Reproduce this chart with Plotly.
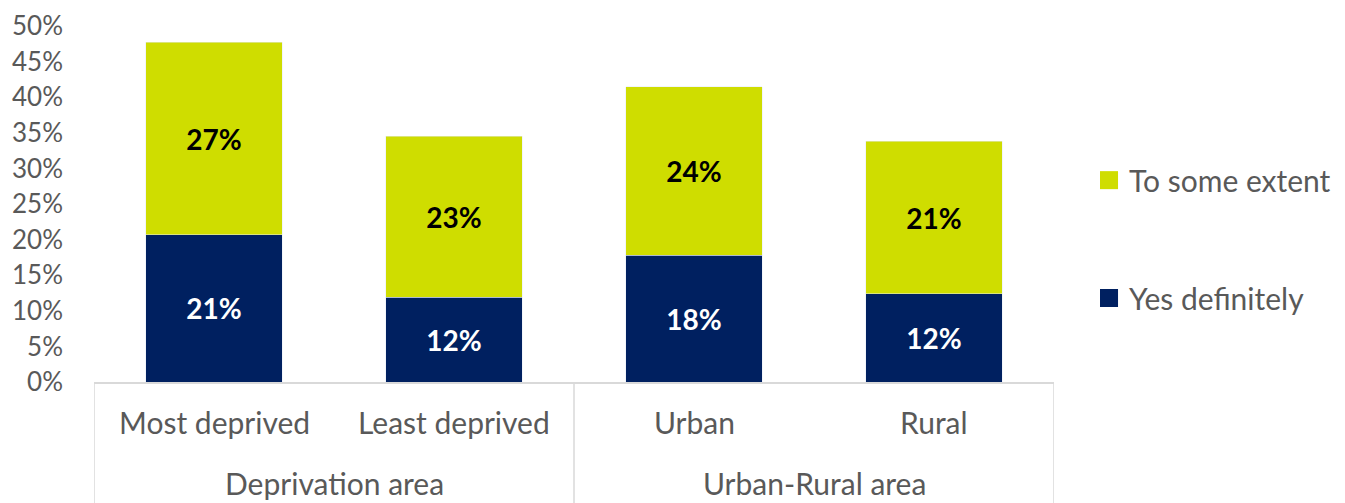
import plotly.graph_objects as go

categories = ["Most deprived", "Least deprived", "Urban", "Rural"]
groups = ["Deprivation area", "Urban-Rural area"]
group_members = [[0, 1], [2, 3]]
yes_definitely = [20.7, 11.9, 17.8, 12.4]
to_some_extent = [27.0, 22.6, 23.7, 21.4]
series_names = ["To some extent", "Yes definitely"]
y_ticks = [0, 5, 10, 15, 20, 25, 30, 35, 40, 45, 50]

NAVY = "#002060"
LIME = "#CFDD00"
GRAY = "#595959"
LINE = "#D9D9D9"
FONT = "Lato"

xs = list(range(len(categories)))

fig = go.Figure()
fig.add_trace(go.Bar(
    x=xs, y=yes_definitely, name="Yes definitely", marker_color=NAVY,
    width=0.57, text=[f"{round(v)}%" for v in yes_definitely],
    textposition="inside", insidetextanchor="middle", textangle=0,
    textfont=dict(color="white", size=28, family=FONT, weight="bold"),
    showlegend=False,
))
fig.add_trace(go.Bar(
    x=xs, y=to_some_extent, name="To some extent", marker_color=LIME,
    width=0.57, text=[f"{round(v)}%" for v in to_some_extent],
    textposition="inside", insidetextanchor="middle", textangle=0,
    textfont=dict(color="black", size=28, family=FONT, weight="bold"),
    showlegend=False,
))

# category labels
for i, c in enumerate(categories):
    fig.add_annotation(x=i, y=-0.112, xref="x", yref="paper", text=c,
                       showarrow=False, yanchor="middle",
                       font=dict(size=30, color=GRAY, family=FONT))
# group labels
for g, mem in zip(groups, group_members):
    fig.add_annotation(x=sum(mem) / len(mem), y=-0.284, xref="x", yref="paper",
                       text=g, showarrow=False, yanchor="middle",
                       font=dict(size=30, color=GRAY, family=FONT))
# dividers
for xv in [-0.5, 1.5, 3.5]:
    fig.add_shape(type="line", x0=xv, x1=xv, y0=0, y1=-0.36, xref="x",
                  yref="paper", line=dict(color=LINE, width=1.5))

# legend (manual)
legend_colors = [LIME, NAVY]
legend_y = [0.567, 0.236]
for name, col, ly in zip(series_names, legend_colors, legend_y):
    fig.add_shape(type="rect", xref="paper", yref="paper",
                  x0=1.0479, x1=1.0667, y0=ly - 0.0253, y1=ly + 0.0253,
                  fillcolor=col, line=dict(width=0))
    fig.add_annotation(x=1.076, y=ly, xref="paper", yref="paper", text=name,
                       showarrow=False, xanchor="left", yanchor="middle",
                       font=dict(size=30, color=GRAY, family=FONT))

fig.update_layout(
    width=1337, height=495,
    margin=dict(l=86, r=291, t=18, b=121, autoexpand=False),
    barmode="stack",
    plot_bgcolor="white", paper_bgcolor="white",
    font=dict(family=FONT, color=GRAY, size=26),
    xaxis=dict(range=[-0.5, 3.5], showticklabels=False, showgrid=False,
               zeroline=False, showline=True, linecolor=LINE, linewidth=1.5,
               fixedrange=True),
    yaxis=dict(range=[0, 50], tickvals=y_ticks,
               ticktext=[f"{t}%" for t in y_ticks], showgrid=False,
               zeroline=False, showline=False, ticklabelstandoff=30,
               ticklabeloverflow="allow",
               tickfont=dict(size=26, color=GRAY, family=FONT)),
    showlegend=False,
)

fig.write_html("out.html")
